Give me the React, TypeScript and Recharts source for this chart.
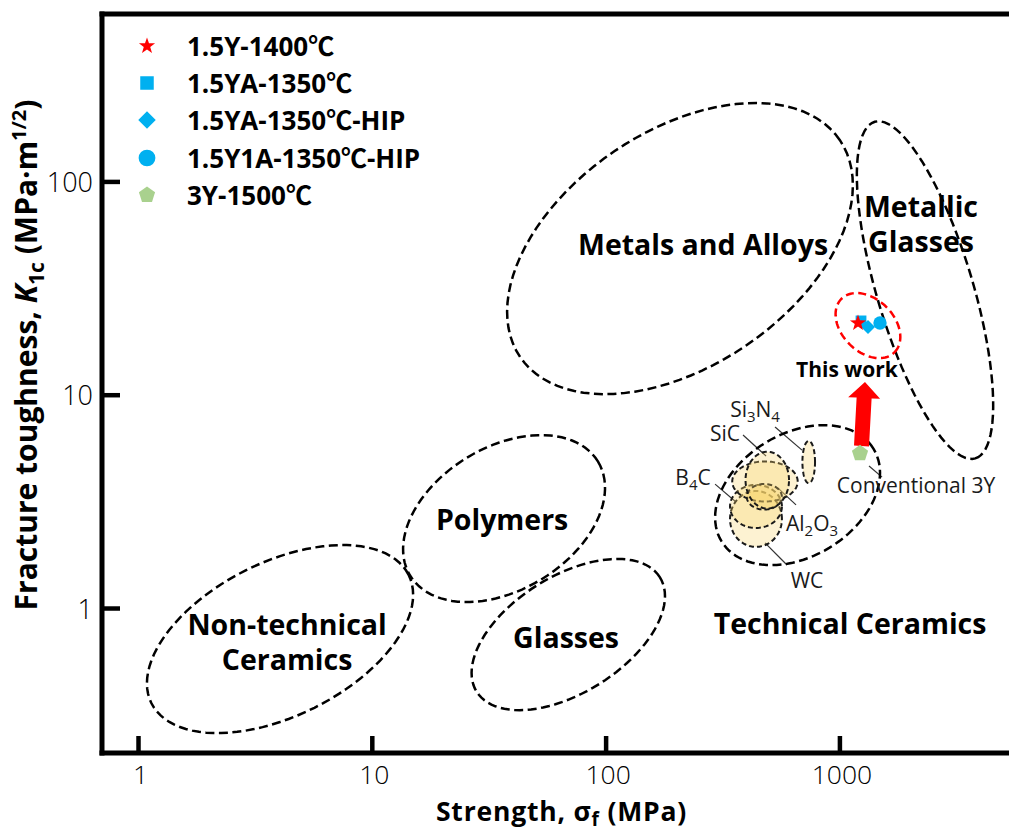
import React from 'react';
import {
  ScatterChart,
  Scatter,
  XAxis,
  YAxis,
  ReferenceLine,
  ReferenceDot,
  Legend
} from 'recharts';

const FONT = "'Open Sans', 'Noto Sans CJK SC', sans-serif";
const BLUE = '#00b0f0';

// axis ranges: strength in MPa, toughness in MPa·m^1/2
const strengthDomain = [0.698, 5287];
const toughnessDomain = [0.2102, 612.6];
const strengthTicks = [1, 10, 100, 1000];
const toughnessTicks = [1, 10, 100];

// measured samples
const y15Sintered1400 = [{ strength: 1195, toughness: 21.8 }];
const ya15Sintered1350 = [{ strength: 1231, toughness: 22.3 }];
const ya15Hip1350 = [{ strength: 1319, toughness: 20.9 }];
const y1a15Hip1350 = [{ strength: 1484, toughness: 21.8 }];
const y3Sintered1500 = [{ strength: 1219, toughness: 5.34 }];

// material-class envelopes: centre plus half-axes given in decades (log σ, log K)
const classEnvelopes = [
  { name: 'Non-technical Ceramics', strength: 4.03, toughness: 0.719, major: [0.55, 0.301], minor: [-0.147, 0.322] },
  { name: 'Polymers', strength: 36.6, toughness: 2.64, major: [0.402, 0.267], minor: [-0.158, 0.286] },
  { name: 'Glasses', strength: 68.9, toughness: 0.755, major: [0.392, 0.268], minor: [-0.132, 0.232] },
  { name: 'Metals and Alloys', strength: 207, toughness: 48.7, major: [0.684, 0.508], minor: [-0.281, 0.456] },
  { name: 'Metallic Glasses', strength: 2312, toughness: 31.1, major: [0.215, -0.789], minor: [0.197, 0.064] },
  { name: 'Technical Ceramics', strength: 659, toughness: 3.4, major: [0.325, 0.217], minor: [-0.137, 0.246] }
];

// individual engineering ceramics inside the technical ceramics field
const ceramicEnvelopes = [
  { name: 'WC', strength: 437.5, toughness: 2.63, major: [0.111, 0], minor: [0, 0.131] },
  { name: 'B4C', strength: 437.5, toughness: 3.01, major: [0.111, 0], minor: [0, 0.101] },
  { name: 'Al2O3', strength: 478, toughness: 3.94, major: [0.14, 0], minor: [0, 0.094] },
  { name: 'Al2O3 overlap', strength: 475, toughness: 3.34, major: [0.075, 0], minor: [0, 0.06] },
  { name: 'SiC', strength: 489, toughness: 4.0, major: [0.093, 0], minor: [0, 0.133] },
  { name: 'Si3N4', strength: 735.5, toughness: 4.86, major: [0.027, 0], minor: [0, 0.099] }
];

const thisWorkEnvelope = { name: 'This work', strength: 1318, toughness: 21.2, major: [0.113, -0.126], minor: [0.08, 0.086] };

// arrow from conventional 3Y up to this work (tail, tip)
const upgradeArrow = [
  { strength: 1237, toughness: 5.78 },
  { strength: 1280, toughness: 11.53 }
];

const classLabels = [
  { lines: ['Metals and Alloys'], strength: 259.8, toughness: 45.4 },
  { lines: ['Metallic', 'Glasses'], strength: 2222, toughness: 68.5 },
  { lines: ['Polymers'], strength: 35.9, toughness: 2.33 },
  { lines: ['Non-technical', 'Ceramics'], strength: 4.32, toughness: 0.751 },
  { lines: ['Glasses'], strength: 67.4, toughness: 0.653 },
  { lines: ['Technical Ceramics'], strength: 1105, toughness: 0.759 }
];

const materialLabels = [
  { text: 'Si_3N_4', strength: 433.5, toughness: 7.9 },
  { text: 'SiC', strength: 322.5, toughness: 6.1 },
  { text: 'B_4C', strength: 235.3, toughness: 3.79 },
  { text: 'Al_2O_3', strength: 760, toughness: 2.31 },
  { text: 'WC', strength: 723, toughness: 1.248 },
  { text: 'Conventional 3Y', strength: 2116, toughness: 3.48 }
];

const leaderLines = [
  [[527.9, 7.1], [688.6, 5.53]],
  [[385.1, 6.51], [483, 5.19]],
  [[292.4, 3.83], [359.4, 3.16]],
  [[649, 3.06], [543.6, 3.67]],
  [[593.8, 1.6], [478.3, 2.03]],
  [[1332, 4.66], [1514, 4.13]]
];

const thisWorkLabel = { text: 'This work', strength: 1072, toughness: 12.17 };

type MarkerKind = 'star' | 'square' | 'diamond' | 'circle' | 'pentagon';

const seriesList: { name: string; data: any[]; kind: MarkerKind; color: string }[] = [
  { name: '1.5YA-1350℃', data: ya15Sintered1350, kind: 'square', color: BLUE },
  { name: '1.5YA-1350℃-HIP', data: ya15Hip1350, kind: 'diamond', color: BLUE },
  { name: '1.5Y1A-1350℃-HIP', data: y1a15Hip1350, kind: 'circle', color: BLUE },
  { name: '3Y-1500℃', data: y3Sintered1500, kind: 'pentagon', color: '#a9d18e' },
  { name: '1.5Y-1400℃', data: y15Sintered1400, kind: 'star', color: '#ff0000' }
];
const legendOrder = ['1.5Y-1400℃', '1.5YA-1350℃', '1.5YA-1350℃-HIP', '1.5Y1A-1350℃-HIP', '3Y-1500℃'];

const regularPolygon = (cx: number, cy: number, n: number, r: number, inner?: number) => {
  const pts: string[] = [];
  const count = inner ? n * 2 : n;
  for (let i = 0; i < count; i++) {
    const rr = inner && i % 2 ? inner : r;
    const a = -Math.PI / 2 + (i * 2 * Math.PI) / count;
    pts.push(`${cx + rr * Math.cos(a)},${cy + rr * Math.sin(a)}`);
  }
  return pts.join(' ');
};

const Marker = ({ kind, cx, cy, color, big }: { kind: MarkerKind; cx: number; cy: number; color: string; big?: boolean }) => {
  const k = big ? 1.25 : 1;
  switch (kind) {
    case 'star':
      return <polygon points={regularPolygon(cx, cy, 5, 8.5, 3.4)} fill={color} />;
    case 'square':
      return <rect x={cx - 6 * k * 0.9} y={cy - 6 * k * 0.9} width={12 * k * 0.9} height={12 * k * 0.9} fill={color} />;
    case 'diamond':
      return <polygon points={regularPolygon(cx, cy, 4, 7 * k)} fill={color} />;
    case 'circle':
      return <circle cx={cx} cy={cy} r={6.2 * k * 1.08} fill={color} />;
    default:
      return <polygon points={regularPolygon(cx, cy, 5, 8.5)} fill={color} />;
  }
};

// centre, end of first half-axis, end of second half-axis
const envelopePoints = (e: { strength: number; toughness: number; major: number[]; minor: number[] }) => [
  { strength: e.strength, toughness: e.toughness },
  { strength: e.strength * 10 ** e.major[0], toughness: e.toughness * 10 ** e.major[1] },
  { strength: e.strength * 10 ** e.minor[0], toughness: e.toughness * 10 ** e.minor[1] }
];

const ellipsePath = (pts: { x: number; y: number }[]) => {
  const [c, a, b] = pts;
  const steps = 96;
  let d = '';
  for (let i = 0; i < steps; i++) {
    const t = (i / steps) * 2 * Math.PI;
    const x = c.x + Math.cos(t) * (a.x - c.x) + Math.sin(t) * (b.x - c.x);
    const y = c.y + Math.cos(t) * (a.y - c.y) + Math.sin(t) * (b.y - c.y);
    d += `${i ? 'L' : 'M'}${x.toFixed(2)},${y.toFixed(2)}`;
  }
  return d + 'Z';
};

const envelopeLine = (style: React.SVGProps<SVGPathElement>) => (props: any) => {
  const pts = props.points || [];
  if (pts.length < 3) return <g />;
  return <path d={ellipsePath(pts)} {...style} />;
};

const arrowLine = (props: any) => {
  const pts = props.points || [];
  if (pts.length < 2) return <g />;
  const [p0, p1] = pts;
  const dx = p1.x - p0.x;
  const dy = p1.y - p0.y;
  const len = Math.hypot(dx, dy) || 1;
  const ux = dx / len;
  const uy = dy / len;
  const nx = -uy;
  const ny = ux;
  const shaft = 7.5;
  const head = 16;
  const headLen = 16;
  const bx = p1.x - ux * headLen;
  const by = p1.y - uy * headLen;
  const poly = [
    [p0.x + nx * shaft, p0.y + ny * shaft],
    [bx + nx * shaft, by + ny * shaft],
    [bx + nx * head, by + ny * head],
    [p1.x, p1.y],
    [bx - nx * head, by - ny * head],
    [bx - nx * shaft, by - ny * shaft],
    [p0.x - nx * shaft, p0.y - ny * shaft]
  ];
  return <polygon points={poly.map((p) => p.join(',')).join(' ')} fill="#ff0000" />;
};

const noPoint = () => <g />;

const StrengthTick = ({ x, y, payload }: any) => (
  <g>
    <line x1={x} y1={y} x2={x} y2={y - 17} stroke="#000" strokeWidth={4.5} />
    <text x={x + 2} y={y + 31} textAnchor="middle" fontFamily={FONT} fontWeight={300} fontSize={26.5} fill="#000">
      {payload.value}
    </text>
  </g>
);

const ToughnessTick = ({ x, y, payload }: any) => (
  <g>
    <line x1={x} y1={y} x2={x + 18} y2={y} stroke="#000" strokeWidth={4.5} />
    <text x={x - 9} y={y + 10} textAnchor="end" fontFamily={FONT} fontWeight={300} fontSize={27} fill="#000">
      {payload.value}
    </text>
  </g>
);

const StrengthTitle = ({ viewBox }: any) => {
  const { x = 102, y = 753, width = 907 } = viewBox || {};
  return (
    <text
      x={x + width / 2 + 6}
      y={y + 68}
      textAnchor="middle"
      fontFamily={FONT}
      fontWeight={700}
      fontSize={26.5}
      letterSpacing={0.8}
      fill="#000"
    >
      Strength, σ<tspan dy={5} fontSize={19}>f</tspan>
      <tspan dy={-5}> (MPa)</tspan>
    </text>
  );
};

const ToughnessTitle = ({ viewBox }: any) => {
  const { y = 14, height = 739 } = viewBox || {};
  const cx = 37;
  const cy = y + height / 2 - 28.5;
  return (
    <text
      x={cx}
      y={cy}
      transform={`rotate(-90, ${cx}, ${cy})`}
      textAnchor="middle"
      fontFamily={FONT}
      fontWeight={700}
      fontSize={30}
      fill="#000"
    >
      Fracture toughness, <tspan fontStyle="italic">K</tspan>
      <tspan dy={7} fontSize={21}>1c</tspan>
      <tspan dy={-7}> (MPa·m</tspan>
      <tspan dy={-11} fontSize={20}>1/2</tspan>
      <tspan dy={11}>)</tspan>
    </text>
  );
};

const classLabelShape = (lines: string[]) => (p: any) => (
  <text x={p.cx} y={p.cy} textAnchor="middle" fontFamily={FONT} fontWeight={700} fontSize={28.5} fill="#000">
    {lines.map((l, i) => (
      <tspan key={l} x={p.cx} dy={i ? 35 : 0}>
        {l}
      </tspan>
    ))}
  </text>
);

// "Si_3N_4" -> Si, sub 3, N, sub 4
const materialLabelShape = (text: string) => (p: any) => {
  const parts = text.split(/_(\d)/);
  return (
    <text x={p.cx} y={p.cy} textAnchor="middle" fontFamily={FONT} fontWeight={400} fontSize={21} fill="#1a1a1a">
      {parts.map((s, i) =>
        s === '' ? null : i % 2 ? (
          <tspan key={i} dy={5} fontSize={15}>
            {s}
          </tspan>
        ) : (
          <tspan key={i} dy={i ? -5 : 0}>
            {s}
          </tspan>
        )
      )}
    </text>
  );
};

const thisWorkShape = (p: any) => (
  <text x={p.cx} y={p.cy} textAnchor="middle" fontFamily={FONT} fontWeight={700} fontSize={21} fill="#000">
    {thisWorkLabel.text}
  </text>
);

const LegendBox = () => (
  <div style={{ fontFamily: FONT, fontWeight: 700, fontSize: 26, color: '#000', lineHeight: 1 }}>
    {legendOrder.map((name) => {
      const s = seriesList.find((e) => e.name === name)!;
      return (
        <div key={name} style={{ display: 'flex', alignItems: 'center', height: 37.3 }}>
          <svg width={24} height={24} style={{ flex: 'none' }}>
            <Marker kind={s.kind} cx={12} cy={12} color={s.color} big />
          </svg>
          <span style={{ marginLeft: 28, whiteSpace: 'nowrap' }}>{name}</span>
        </div>
      );
    })}
  </div>
);

const axisStroke = { stroke: '#000', strokeWidth: 5, strokeLinecap: 'square' as const };

const App = () => (
  <div style={{ position: 'absolute', left: 0, top: 0, width: 1009, height: 831, overflow: 'hidden', background: '#fff' }}>
    <ScatterChart width={1009} height={831} margin={{ top: 0, right: 0, bottom: 0, left: 0 }}>
      <XAxis
        xAxisId="top"
        orientation="top"
        type="number"
        dataKey="strength"
        scale="log"
        domain={strengthDomain}
        allowDataOverflow
        height={14}
        tick={false}
        tickLine={false}
        axisLine={axisStroke}
      />
      <XAxis
        type="number"
        dataKey="strength"
        scale="log"
        domain={strengthDomain}
        allowDataOverflow
        ticks={strengthTicks}
        interval={0}
        height={78}
        tickSize={0}
        tickMargin={0}
        tickLine={false}
        tick={StrengthTick}
        axisLine={axisStroke}
        label={<StrengthTitle />}
      />
      <YAxis
        type="number"
        dataKey="toughness"
        scale="log"
        domain={toughnessDomain}
        allowDataOverflow
        ticks={toughnessTicks}
        interval={0}
        width={102}
        tickSize={0}
        tickMargin={0}
        tickLine={false}
        tick={ToughnessTick}
        axisLine={axisStroke}
        label={<ToughnessTitle />}
      />

      {classEnvelopes.map((e) => (
        <Scatter
          key={e.name}
          name={e.name}
          data={envelopePoints(e)}
          shape={noPoint}
          line={envelopeLine({ fill: 'none', stroke: '#000', strokeWidth: 2.5, strokeDasharray: '9 4.5' })}
          legendType="none"
          isAnimationActive={false}
        />
      ))}

      {ceramicEnvelopes.map((e) => (
        <Scatter
          key={e.name}
          name={e.name}
          data={envelopePoints(e)}
          shape={noPoint}
          line={envelopeLine({ fill: '#f9d36b', fillOpacity: 0.3, stroke: '#1a1a1a', strokeWidth: 2, strokeDasharray: '5 3' })}
          legendType="none"
          isAnimationActive={false}
        />
      ))}

      {leaderLines.map((seg, i) => (
        <ReferenceLine
          key={i}
          segment={[
            { x: seg[0][0], y: seg[0][1] },
            { x: seg[1][0], y: seg[1][1] }
          ]}
          stroke="#333"
          strokeWidth={1.2}
        />
      ))}

      <Scatter
        name={thisWorkEnvelope.name}
        data={envelopePoints(thisWorkEnvelope)}
        shape={noPoint}
        line={envelopeLine({ fill: 'none', stroke: '#ff0000', strokeWidth: 2.5, strokeDasharray: '8 4.5' })}
        legendType="none"
        isAnimationActive={false}
      />

      <Scatter name="arrow" data={upgradeArrow} shape={noPoint} line={arrowLine} legendType="none" isAnimationActive={false} />

      {seriesList.map((s) => (
        <Scatter
          key={s.name}
          name={s.name}
          data={s.data}
          fill={s.color}
          shape={(p: any) => <Marker kind={s.kind} cx={p.cx} cy={p.cy} color={s.color} />}
          isAnimationActive={false}
        />
      ))}

      {classLabels.map((l) => (
        <ReferenceDot key={l.lines[0]} x={l.strength} y={l.toughness} r={0} shape={classLabelShape(l.lines)} />
      ))}
      {materialLabels.map((l) => (
        <ReferenceDot key={l.text} x={l.strength} y={l.toughness} r={0} shape={materialLabelShape(l.text)} />
      ))}
      <ReferenceDot x={thisWorkLabel.strength} y={thisWorkLabel.toughness} r={0} shape={thisWorkShape} />

      <Legend
        layout="vertical"
        align="center"
        verticalAlign="middle"
        content={<LegendBox />}
        wrapperStyle={{ left: 135, top: 27, width: 340 }}
      />
    </ScatterChart>
  </div>
);

export default App;
